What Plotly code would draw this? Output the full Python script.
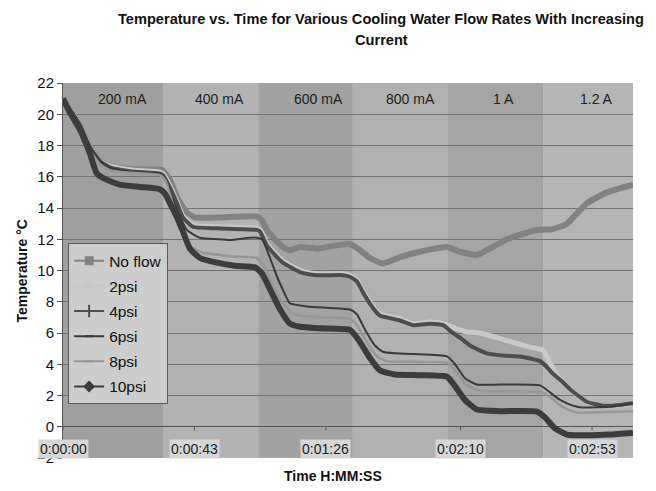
import plotly.graph_objects as go

# ---------------- data ----------------
series_names = ["No flow", "2psi", "4psi", "6psi", "8psi", "10psi"]

t_noflow = [0, 2.3, 5.6, 8.8, 12.1, 15.4, 21.9, 31.7, 32.7, 35.0, 37.3, 40.5, 43.2, 51.3, 63.4, 65.1,
            66.7, 69.3, 71.9, 74.2, 77.5, 83.1, 93.8, 97.1, 100.4, 104.6, 110.2, 116.7, 125.6, 129.8,
            135.4, 145.2, 155.0, 160.2, 164.8, 171.3, 177.9, 186.4]
temp_noflow = [21.0, 20.3, 19.3, 17.9, 17.0, 16.7, 16.5, 16.45, 16.4, 15.8, 14.7, 13.7, 13.4, 13.4,
               13.45, 13.2, 12.6, 12.0, 11.5, 11.3, 11.5, 11.4, 11.7, 11.3, 10.8, 10.45, 10.85, 11.2,
               11.5, 11.2, 11.0, 12.0, 12.6, 12.65, 13.0, 14.3, 15.0, 15.5]

t_2psi = [0, 2.3, 5.6, 8.8, 12.1, 15.4, 21.9, 31.7, 32.7, 35.0, 37.3, 39.2, 42.5, 50.4, 63.4, 64.4,
          66.7, 69.3, 71.9, 77.5, 83.1, 91.6, 93.8, 96.1, 98.1, 101.0, 103.7, 105.9, 110.2, 114.5,
          120.0, 124.3, 126.5, 131.5, 136.4, 141.9, 147.2, 152.7, 157.0, 159.2, 161.5, 165.8, 171.3,
          176.6, 186.4]
temp_2psi = [21.0, 20.3, 19.3, 17.9, 17.0, 16.7, 16.45, 16.3, 16.2, 15.4, 14.4, 13.5, 12.9, 12.8,
             12.7, 12.6, 11.7, 11.1, 10.6, 10.0, 9.8, 9.8, 9.7, 9.4, 8.7, 7.8, 7.2, 7.1, 6.9, 6.6,
             6.7, 6.6, 6.45, 6.1, 6.0, 5.7, 5.4, 5.1, 4.9, 4.1, 3.3, 2.4, 1.6, 1.35, 1.45]

t_4psi = [0, 2.3, 5.6, 8.8, 12.1, 15.4, 21.9, 31.7, 32.7, 35.0, 37.3, 39.2, 42.5, 50.4, 63.4, 64.4,
          66.7, 69.3, 71.9, 77.5, 83.1, 91.6, 93.8, 96.1, 98.1, 101.0, 103.7, 105.9, 110.2, 114.5,
          120.0, 124.3, 127.5, 130.5, 133.1, 138.6, 144.5, 149.4, 156.0, 158.3, 160.2, 163.2, 165.8,
          171.3, 176.6, 182.1, 186.4]
temp_4psi = [21.0, 20.3, 19.3, 17.9, 17.0, 16.6, 16.35, 16.2, 16.1, 15.3, 14.3, 13.4, 12.8, 12.7,
             12.6, 12.5, 11.6, 11.0, 10.5, 9.9, 9.7, 9.7, 9.6, 9.3, 8.6, 7.7, 7.1, 7.0, 6.8, 6.5,
             6.6, 6.5, 6.0, 5.6, 5.2, 4.7, 4.55, 4.5, 4.2, 3.8, 3.4, 2.9, 2.4, 1.6, 1.35, 1.4, 1.5]

t_6psi = [0, 2.3, 5.6, 8.8, 12.1, 15.4, 21.9, 31.7, 33.4, 36.6, 40.5, 44.8, 50.4, 54.6, 61.1, 63.4,
          65.1, 67.7, 70.0, 72.3, 74.2, 79.8, 87.3, 93.8, 96.1, 98.8, 102.0, 104.6, 108.6, 114.5,
          125.6, 128.2, 131.5, 135.4, 142.9, 156.0, 158.6, 161.9, 164.8, 169.1, 179.9, 186.4]
temp_6psi = [21.0, 20.3, 19.3, 17.9, 17.0, 16.6, 16.3, 16.2, 15.9, 14.2, 12.6, 12.1, 12.0, 11.95,
             12.1, 12.1, 12.0, 10.8, 9.6, 8.6, 7.9, 7.7, 7.6, 7.5, 7.2, 6.2, 5.2, 4.8, 4.7, 4.65,
             4.5, 4.0, 3.1, 2.7, 2.7, 2.65, 2.3, 1.8, 1.5, 1.25, 1.3, 1.5]

t_8psi = [0, 2.3, 5.6, 8.8, 12.1, 15.4, 21.9, 31.7, 33.4, 36.6, 40.5, 44.8, 55.6, 63.4, 65.4, 68.3,
          71.6, 74.9, 77.5, 84.0, 93.8, 96.1, 99.4, 102.7, 105.9, 116.7, 125.6, 128.2, 131.8, 136.4,
          146.2, 157.0, 159.9, 163.2, 166.4, 169.1, 178.9, 186.4]
temp_8psi = [21.0, 20.2, 19.1, 17.7, 16.8, 16.4, 16.25, 16.1, 15.8, 13.8, 11.8, 11.2, 10.9, 10.8,
             10.4, 9.2, 8.0, 7.3, 7.1, 7.0, 6.9, 6.5, 5.4, 4.5, 4.2, 4.15, 4.1, 3.6, 2.7, 2.3,
             2.25, 2.2, 1.8, 1.3, 1.0, 0.9, 0.95, 1.0]

t_10psi = [0, 2.3, 5.6, 8.8, 11.1, 14.4, 18.6, 25.2, 31.7, 33.4, 35.0, 37.3, 39.2, 41.5, 44.8, 50.4,
           56.2, 62.8, 65.1, 67.7, 71.0, 74.2, 77.5, 84.0, 93.8, 96.5, 100.4, 103.7, 108.6, 116.7,
           125.6, 128.2, 131.5, 135.4, 142.9, 155.0, 157.6, 160.9, 164.8, 172.3, 178.9, 186.4]
temp_10psi = [21.0, 20.1, 19.0, 17.5, 16.2, 15.8, 15.5, 15.35, 15.2, 14.9, 14.3, 13.4, 12.5, 11.4,
              10.8, 10.5, 10.3, 10.2, 9.8, 8.8, 7.5, 6.6, 6.4, 6.3, 6.2, 5.6, 4.4, 3.6, 3.35, 3.3,
              3.2, 2.6, 1.7, 1.1, 1.0, 0.97, 0.6, -0.1, -0.5, -0.55, -0.5, -0.4]

band_labels = ["200 mA", "400 mA", "600 mA", "800 mA", "1 A", "1.2 A"]
band_edges = [0, 32.7, 63.8, 94.8, 125.9, 157.0, 186.4]
band_label_t = [19.3, 51.3, 83.4, 113.5, 143.9, 174.6]

tick_vals = [0, 43, 86, 130, 173]
tick_text = ["0:00:00", "0:00:43", "0:01:26", "0:02:10", "0:02:53"]

# ---------------- styling ----------------
FONT = "Liberation Sans, Arial, sans-serif"
band_colors = ["#9f9f9f", "#b3b3b3", "#a2a2a2", "#b1b1b1", "#a5a5a5", "#b5b5b5"]
styles = {
    "No flow": dict(color="#828282", width=6, symbol="square", msize=7),
    "2psi": dict(color="#c9c9c9", width=5, symbol="triangle-up", msize=8),
    "4psi": dict(color="#4d4d4d", width=4, symbol="cross-thin", msize=9),
    "6psi": dict(color="#3a3a3a", width=2, symbol="line-ew", msize=6),
    "8psi": dict(color="#979797", width=2.5, symbol="line-ew", msize=6),
    "10psi": dict(color="#3c3c3c", width=6, symbol="diamond", msize=7),
}
data = {
    "No flow": (t_noflow, temp_noflow),
    "2psi": (t_2psi, temp_2psi),
    "4psi": (t_4psi, temp_4psi),
    "6psi": (t_6psi, temp_6psi),
    "8psi": (t_8psi, temp_8psi),
    "10psi": (t_10psi, temp_10psi),
}

fig = go.Figure()
for name in series_names:
    tx, vy = data[name]
    st = styles[name]
    fig.add_trace(go.Scatter(
        x=tx, y=vy, mode="lines", name=name, showlegend=False,
        line=dict(color=st["color"], width=st["width"], shape="spline", smoothing=0.5),
        hoverinfo="skip"))
# legend entries (line + marker sample)
for name in series_names:
    st = styles[name]
    fig.add_trace(go.Scatter(
        x=[None], y=[None], mode="lines+markers", name=name, legendgroup=name,
        line=dict(color=st["color"], width=2),
        marker=dict(symbol=st["symbol"], size=st["msize"], color=st["color"],
                    line=dict(color=st["color"], width=2))))

shapes = []
for i, c in enumerate(band_colors):
    shapes.append(dict(type="rect", xref="x", yref="paper", x0=band_edges[i], x1=band_edges[i + 1],
                       y0=0, y1=1, fillcolor=c, line=dict(width=0), layer="below"))
for tv in tick_vals:
    shapes.append(dict(type="line", xref="x", yref="y", x0=tv, x1=tv, y0=0, y1=-0.22,
                       line=dict(color="#555555", width=1)))

annotations = []
for lab, tv in zip(band_labels, band_label_t):
    annotations.append(dict(x=tv, y=21.0, xref="x", yref="y", text=lab, showarrow=False,
                            font=dict(family=FONT, size=14, color="#1e1e1e")))
for lab, tv in zip(tick_text, tick_vals):
    annotations.append(dict(x=tv, y=-1.4, xref="x", yref="y", text=lab, showarrow=False,
                            bgcolor="#d6d6d6", borderpad=1,
                            font=dict(family=FONT, size=14, color="#222222")))
annotations += [
    dict(x=0.558, y=1.171, xref="paper", yref="paper", showarrow=False, yanchor="middle",
         text="<b>Temperature vs. Time for Various Cooling Water Flow Rates With Increasing</b>",
         font=dict(family=FONT, size=14.6, color="#111111")),
    dict(x=0.558, y=1.115, xref="paper", yref="paper", showarrow=False, yanchor="middle",
         text="<b>Current</b>", font=dict(family=FONT, size=14.6, color="#111111")),
    dict(x=0.473, y=-0.048, xref="paper", yref="paper", showarrow=False, yanchor="middle",
         text="<b>Time H:MM:SS</b>", font=dict(family=FONT, size=14, color="#111111")),
    dict(x=-0.072, y=0.5, xref="paper", yref="paper", showarrow=False, textangle=-90,
         xanchor="center", text="<b>Temperature °C</b>",
         font=dict(family=FONT, size=14, color="#111111")),
]

fig.update_layout(
    width=656, height=491,
    margin=dict(l=63, r=23, t=83, b=33),
    paper_bgcolor="white", plot_bgcolor="rgba(0,0,0,0)",
    font=dict(family=FONT, size=15, color="#111111"),
    shapes=shapes, annotations=annotations,
    showlegend=True,
    legend=dict(x=0.009, y=0.573, xanchor="left", yanchor="top",
                bgcolor="#cdcdcd", bordercolor="#5a5a5a", borderwidth=1,
                font=dict(family=FONT, size=15.5, color="#111111"),
                tracegroupgap=2, itemwidth=30),
    xaxis=dict(range=[0, 186.4], showgrid=False, zeroline=False, showline=False,
               showticklabels=False, ticks=""),
    yaxis=dict(range=[-2, 22], dtick=2, showgrid=True, gridcolor="#737373", gridwidth=1,
               zeroline=True, zerolinecolor="#555555", zerolinewidth=1,
               showline=True, linecolor="#555555", linewidth=1,
               ticks="outside", ticklen=5, tickcolor="#555555",
               tickfont=dict(family=FONT, size=15, color="#111111")),
)

fig.write_html("out.html", config={"displayModeBar": False},
               post_script="document.body.style.margin='0px';")
